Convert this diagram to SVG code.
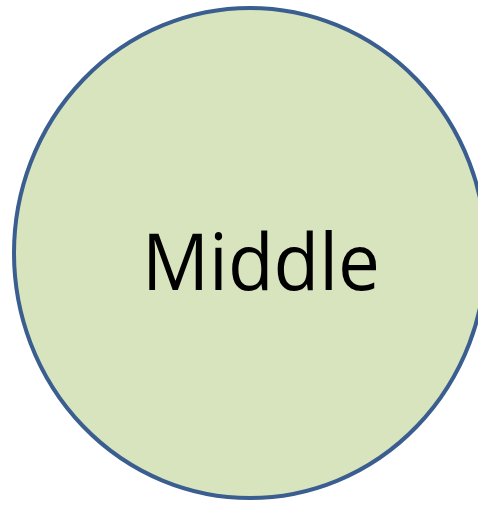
<svg xmlns="http://www.w3.org/2000/svg" width="478" height="505" viewBox="0 0 478 505">
<style>
.node-shape{fill:#D7E4BD;stroke:#3A5E8F;stroke-width:4}
.node-label{font-family:"Open Sans","Liberation Sans",sans-serif;font-size:78px;fill:#000}
</style>
<rect width="478" height="505" fill="#FFFFFF"/>
<g id="connectors"></g>
<g id="middle">
<ellipse class="node-shape" cx="250" cy="253" rx="236" ry="245"/>
<text class="node-label" x="261" y="290" text-anchor="middle" textLength="238" lengthAdjust="spacingAndGlyphs">Middle</text>
</g>
</svg>
